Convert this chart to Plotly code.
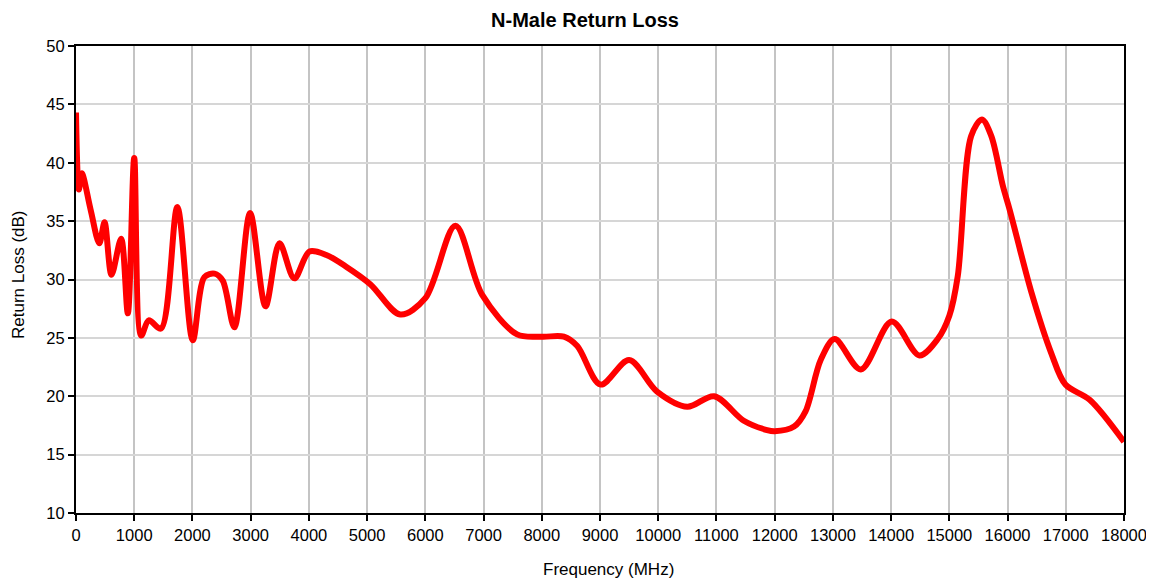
import plotly.graph_objects as go

freq_mhz = [0, 50, 100, 250, 400, 490, 610, 775, 890, 1000, 1120, 1250, 1460,
            1740, 2005, 2205, 2380, 2520, 2720, 2990, 3255, 3495, 3750, 4010,
            4300, 4640, 5054, 5570, 6000, 6516, 6974, 7576, 8006, 8380, 8610,
            9010, 9500, 9980, 10500, 10960, 11470, 11870, 12000, 12333, 12530,
            12790, 13030, 13480, 14010, 14485, 14800, 15000, 15145, 15375,
            15560, 15720, 15920, 16035, 16410, 16750, 16994, 17410, 18000]
return_loss_db = [44.3, 37.7, 39.1, 36.0, 33.1, 34.9, 30.4, 33.5, 27.1, 40.4,
                  25.2, 26.5, 25.8, 36.2, 24.8, 30.2, 30.5, 29.9, 25.9, 35.7,
                  27.7, 33.1, 30.1, 32.4, 32.1, 31.1, 29.6, 27.0, 28.4, 34.6,
                  28.7, 25.3, 25.1, 25.1, 24.3, 21.0, 23.1, 20.4, 19.1, 20.0,
                  17.9, 17.1, 17.0, 17.4, 18.7, 23.1, 24.9, 22.3, 26.4, 23.5,
                  24.9, 26.9, 30.3, 42.3, 43.7, 42.3, 38.0, 36.0, 28.9, 23.7,
                  21.0, 19.7, 16.1]

x_ticks = list(range(0, 18001, 1000))
y_ticks = list(range(10, 51, 5))

W, H = 1154, 582
L, R, T, B = 68, 38, 38, 77
plot_w = W - L - R
plot_h = H - T - B

fig = go.Figure()
fig.add_trace(go.Scatter(
    x=freq_mhz, y=return_loss_db, mode="lines",
    line=dict(color="#ff0000", width=6, shape="spline", smoothing=0.9),
    showlegend=False, hoverinfo="x+y",
))

font_family = "Liberation Sans, Arial, sans-serif"
fig.update_layout(
    width=W, height=H,
    margin=dict(l=L, r=R, t=T, b=B),
    paper_bgcolor="white", plot_bgcolor="white",
    font=dict(family=font_family, size=16.5, color="black"),
    title=dict(text="<b>N-Male Return Loss</b>", x=0.5, xanchor="center",
               xref="container", yref="container",
               y=1 - 12 / H, yanchor="middle",
               font=dict(family=font_family, size=20, color="black")),
    annotations=[
        dict(text="Frequency (MHz)", xref="paper", yref="paper",
             x=0.5 + 8 / plot_w, y=-56 / plot_h, xanchor="center",
             yanchor="middle", showarrow=False,
             font=dict(family=font_family, size=17, color="black")),
        dict(text="Return Loss (dB)", xref="paper", yref="paper",
             x=-58 / plot_w, y=1 - 229 / plot_h, xanchor="center",
             yanchor="middle", textangle=-90, showarrow=False,
             font=dict(family=font_family, size=17, color="black")),
    ],
)
fig.update_xaxes(
    range=[0, 18000], tickvals=x_ticks, ticktext=[str(v) for v in x_ticks],
    showgrid=True, gridcolor="#c4c4c4", gridwidth=2,
    showline=True, linecolor="black", linewidth=2, mirror=True,
    ticks="outside", ticklen=6, tickwidth=1.5, tickcolor="black",
    zeroline=False,
)
fig.update_yaxes(
    range=[10, 50], tickvals=y_ticks, ticktext=[str(v) for v in y_ticks],
    showgrid=True, gridcolor="#d6d6d6", gridwidth=1.5,
    showline=True, linecolor="black", linewidth=2, mirror=True,
    ticks="outside", ticklen=6, tickwidth=1.5, tickcolor="black",
    zeroline=False,
)

fig.write_html("out.html")
